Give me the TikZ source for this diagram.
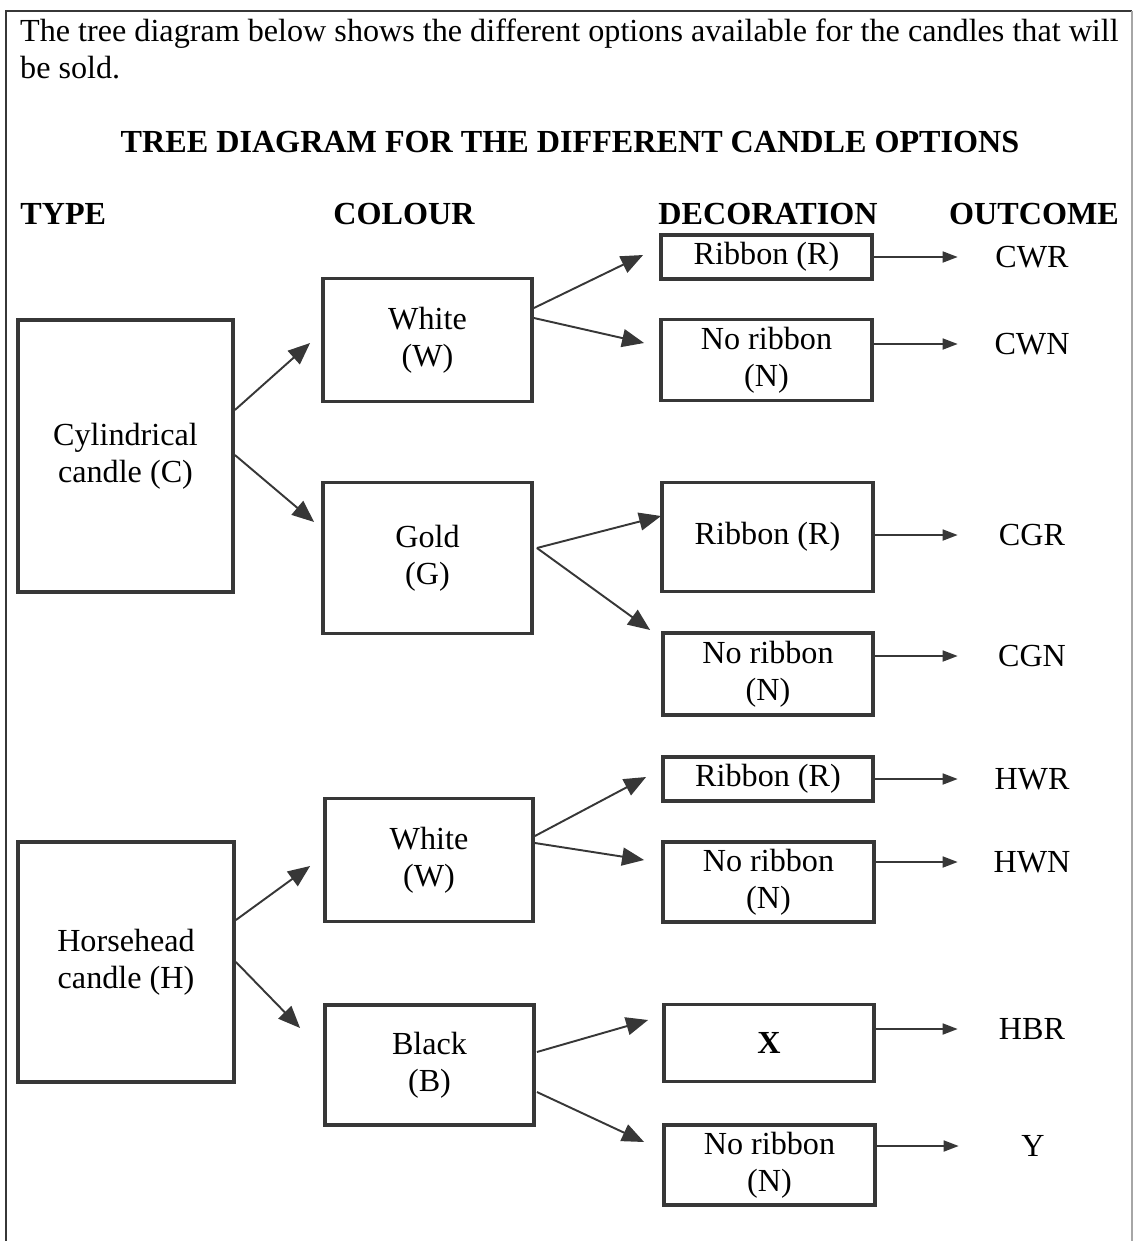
\documentclass[tikz,border=0pt]{standalone}
\usepackage{fontspec}
\setmainfont{Liberation Serif}
\definecolor{myline}{RGB}{55,55,55}
\usetikzlibrary{arrows.meta,positioning,calc}
\tikzset{outlabel/.style = {draw=none, minimum width=1.6cm, inner sep=0pt}}

\begin{document}
\begin{tikzpicture}[x=0.02cm,y=-0.02cm,
  every node/.style={font=\fontsize{18.3}{21}\selectfont},
  box/.style={draw=myline,line width=2.2pt,align=center,inner sep=2pt},
  heading/.style={font=\fontsize{18.3}{21}\selectfont\bfseries},
  arr/.style={myline,line width=1.1pt,-{Triangle[length=0.44cm,width=0.36cm]}},
  outarr/.style={myline,line width=1pt,-{Triangle[length=0.3cm,width=0.22cm]},shorten >=0.68cm}
  ]
  \useasboundingbox (0,0) rectangle (1135,1241);

  % the frame
  \draw[myline,line width=1.6pt] (6,1241) -- (6,11) -- (1132,11);
  \draw[black!35,line width=0.6pt] (1132,11) -- (1132,1241);

  % the texts above
  \node[anchor=west,align=left,font=\fontsize{18.3}{21.5}\selectfont] (intro) at (14,49)
    {The tree diagram below shows the different options available for the candles that will\\be sold.};
  \node[heading] (title) at (570,142) {TREE DIAGRAM FOR THE DIFFERENT CANDLE OPTIONS};
  \node[heading,anchor=west,inner sep=0pt] (htype) at (20,214) {TYPE};
  \node[heading] (hcol) at (404,214) {COLOUR};
  \node[heading] (hdec) at (768,214) {DECORATION};
  \node[heading] (hout) at (1034,214) {OUTCOME};

  % the types
  \node[box,minimum width=4.3cm,minimum height=5.44cm] (cyl) at (125.5,456) {Cylindrical\\candle (C)};
  \node[box,minimum width=4.32cm,minimum height=4.8cm] (hor) at (126,962) {Horsehead\\candle (H)};

  % the colours
  \node[box,minimum width=4.18cm,minimum height=2.46cm] (cw) at (427.5,340) {White\\(W)};
  \node[box,minimum width=4.18cm,minimum height=3.02cm] (cg) at (427.5,558) {Gold\\(G)};
  \node[box,minimum width=4.16cm,minimum height=2.46cm] (hw) at (429,860) {White\\(W)};
  \node[box,minimum width=4.18cm,minimum height=2.4cm] (hb) at (429.5,1065) {Black\\(B)};

  % the decorations
  \node[box,minimum width=4.22cm,minimum height=0.88cm] (r1) at (766.5,257) {Ribbon (R)};
  \node[box,minimum width=4.22cm,minimum height=1.62cm] (n1) at (766.5,360) {No ribbon\\(N)};
  \node[box,minimum width=4.22cm,minimum height=2.18cm] (r2) at (767.5,537) {Ribbon (R)};
  \node[box,minimum width=4.2cm,minimum height=1.64cm] (n2) at (768,674) {No ribbon\\(N)};
  \node[box,minimum width=4.2cm,minimum height=0.88cm] (r3) at (768,779) {Ribbon (R)};
  \node[box,minimum width=4.22cm,minimum height=1.6cm] (n3) at (768.5,882) {No ribbon\\(N)};
  \node[box,minimum width=4.2cm,minimum height=1.54cm,font=\fontsize{18.3}{21}\selectfont\bfseries] (x) at (769,1043) {X};
  \node[box,minimum width=4.22cm,minimum height=1.6cm] (n4) at (769.5,1165) {No ribbon\\(N)};

  % the outcomes
  \node[outlabel] (o1) at (1032,257) {CWR};
  \node[outlabel] (o2) at (1032,344) {CWN};
  \node[outlabel] (o3) at (1032,535) {CGR};
  \node[outlabel] (o4) at (1032,656) {CGN};
  \node[outlabel] (o5) at (1032,779) {HWR};
  \node[outlabel] (o6) at (1032,862) {HWN};
  \node[outlabel] (o7) at (1032,1029) {HBR};
  \node[outlabel] (o8) at (1033,1146) {Y};

  % the branches
  \draw[arr] ($(cyl.east)+(0,-46)$) -- ($(cw.west)+(-11,3)$);
  \draw[arr] ($(cyl.east)+(0,-1)$) -- ($(cg.west)+(-7,-36)$);
  \draw[arr] ($(cw.east)+(0,-32)$) -- ($(r1.west)+(-16,-2)$);
  \draw[arr] ($(cw.east)+(0,-22)$) -- ($(n1.west)+(-15,-17)$);
  \draw[arr] ($(cg.east)+(3,-10)$) -- ($(r2.west)+(1,-21)$);
  \draw[arr] ($(cg.east)+(3,-10)$) -- ($(n2.west)+(-11,-44)$);
  \draw[arr] ($(hor.east)+(0,-42)$) -- ($(hw.west)+(-13,6)$);
  \draw[arr] ($(hor.east)+(0,0)$) -- ($(hb.west)+(-23,-37)$);
  \draw[arr] ($(hw.east)+(0,-24)$) -- ($(r3.west)+(-15,-2)$);
  \draw[arr] ($(hw.east)+(0,-17)$) -- ($(n3.west)+(-17,-22)$);
  \draw[arr] ($(hb.east)+(1,-13)$) -- ($(x.west)+(-14,-23)$);
  \draw[arr] ($(hb.east)+(1,27)$) -- ($(n4.west)+(-18,-23)$);

  % the outcome arrows
  \draw[outarr] (r1.east |- o1) -- (o1);
  \draw[outarr] (n1.east |- o2) -- (o2);
  \draw[outarr] (r2.east |- o3) -- (o3);
  \draw[outarr] (n2.east |- o4) -- (o4);
  \draw[outarr] (r3.east |- o5) -- (o5);
  \draw[outarr] (n3.east |- o6) -- (o6);
  \draw[outarr] (x.east |- o7) -- (o7);
  \draw[outarr] (n4.east |- o8) -- (o8);
\end{tikzpicture}
\end{document}
